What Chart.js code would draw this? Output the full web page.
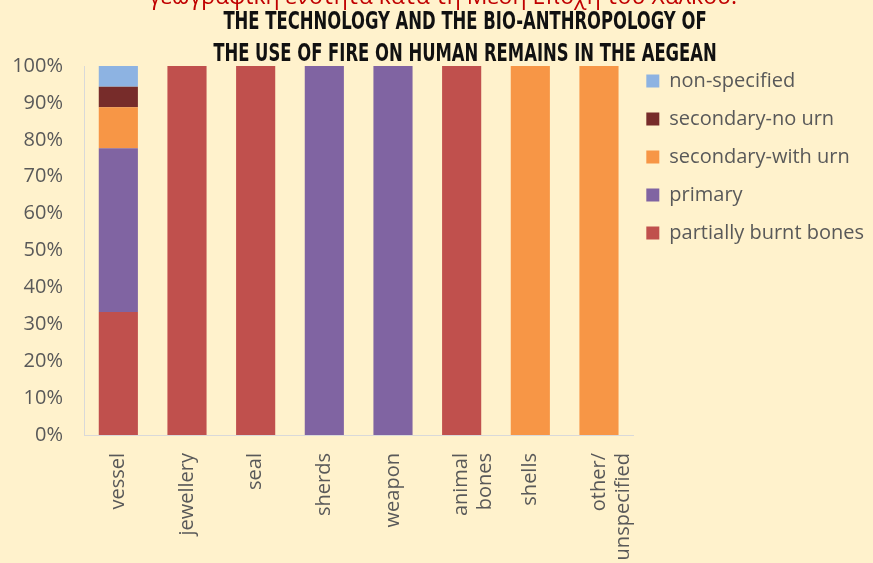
<!DOCTYPE html>
<html>
<head>
<meta charset="utf-8">
<script src="https://cdn.jsdelivr.net/npm/chart.js@4/dist/chart.umd.min.js"></script>
<style>
  body { margin: 0; background: #fff2cc; }
  #wrap { position: relative; width: 873px; height: 563px; overflow: hidden; background: #fff2cc; }
  #greek { position: absolute; left: 0; width: 886px; top: -21px; text-align: center; color: #c00000;
           font-family: "Open Sans", "Noto Sans", sans-serif; font-size: 23px; white-space: nowrap; }
  .ttl { position: absolute; left: 465px; transform: translateX(-50%) scaleX(0.73); white-space: nowrap;
         font-family: "DejaVu Sans Condensed", "DejaVu Sans", sans-serif; font-weight: bold; font-size: 25px; color: #111; }
  canvas { position: absolute; left: 0; top: 0; }
</style>
</head>
<body>
<div id="wrap">
  <canvas id="chart" width="873" height="563"></canvas>
  <div id="greek">γεωγραφική ενότητα κατά τη Μέση Εποχή του Χαλκού.</div>
  <div class="ttl" style="top:6px">THE TECHNOLOGY AND THE BIO-ANTHROPOLOGY OF</div>
  <div class="ttl" style="top:38px">THE USE OF FIRE ON HUMAN REMAINS IN THE AEGEAN</div>
</div>
<script>
const categories = ['vessel', 'jewellery', 'seal', 'sherds', 'weapon', ['animal', 'bones'], 'shells', ['other/', 'unspecified']];
const partiallyBurnt = [33.3, 100, 100, 0, 0, 100, 0, 0];
const primary = [44.4, 0, 0, 100, 100, 0, 0, 0];
const secondaryWithUrn = [11.1, 0, 0, 0, 0, 0, 100, 100];
const secondaryNoUrn = [5.6, 0, 0, 0, 0, 0, 0, 0];
const nonSpecified = [5.6, 0, 0, 0, 0, 0, 0, 0];
const yTicks = [0, 10, 20, 30, 40, 50, 60, 70, 80, 90, 100];

const txt = '#595959';
const font = { family: '"Open Sans", Lato, sans-serif', size: 20 };

// legend sits a bit higher and closer to the plot than chart.js puts it
const legendShift = {
    id: 'legendShift',
    afterLayout(chart) {
        chart.legend.top -= 13;
        chart.legend.bottom -= 13;
        chart.legend.left -= 5;
        chart.legend.right -= 5;
    }
};

function draw() {
    new Chart(document.getElementById('chart'), {
        type: 'bar',
        data: {
            labels: categories,
            datasets: [
                { label: 'partially burnt bones', data: partiallyBurnt, backgroundColor: '#c0504d' },
                { label: 'primary', data: primary, backgroundColor: '#8064a2' },
                { label: 'secondary-with urn', data: secondaryWithUrn, backgroundColor: '#f79646' },
                { label: 'secondary-no urn', data: secondaryNoUrn, backgroundColor: '#772c2a' },
                { label: 'non-specified', data: nonSpecified, backgroundColor: '#8db3e2' }
            ]
        },
        options: {
            responsive: false,
            animation: false,
            layout: { padding: { top: 66, left: 0, right: -6, bottom: 0 } },
            datasets: { bar: { categoryPercentage: 1, barPercentage: 0.57 } },
            scales: {
                x: {
                    stacked: true,
                    grid: { display: false },
                    border: { color: '#d9d9d9' },
                    ticks: { color: txt, font: font, minRotation: 90, maxRotation: 90, padding: 10 },
                    afterFit: s => { s.height = 128; }
                },
                y: {
                    stacked: true,
                    min: 0, max: 100,
                    grid: { display: false },
                    border: { color: '#d9d9d9' },
                    afterBuildTicks: s => { s.ticks = yTicks.map(v => ({ value: v })); },
                    ticks: { color: txt, font: font, padding: 13, callback: v => v + '%' },
                    afterFit: s => { s.width = 84; }
                }
            },
            plugins: {
                tooltip: { enabled: false },
                legend: {
                    position: 'right',
                    align: 'start',
                    reverse: true,
                    maxWidth: 300,
                    labels: { color: txt, font: font, boxWidth: 13, boxHeight: 13, padding: 18 }
                }
            }
        },
        plugins: [legendShift]
    });
}

document.fonts.load('20px "Open Sans"').then(draw, draw);
</script>
</body>
</html>
